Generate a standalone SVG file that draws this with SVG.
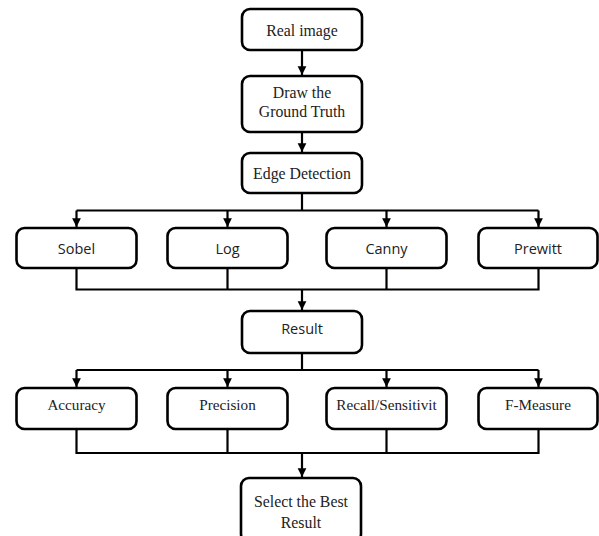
<svg xmlns="http://www.w3.org/2000/svg" width="599" height="536" viewBox="0 0 599 536">
<defs>
<marker id="arr" viewBox="0 0 10 10" refX="10" refY="5" markerWidth="4" markerHeight="4.5" orient="auto" markerUnits="strokeWidth">
<path d="M0,0 L10,5 L0,10 z" fill="#000"/>
</marker>
<style>
.box{fill:#fff;stroke:#000;stroke-width:2.6}
.con{fill:none;stroke:#000;stroke-width:2.2}
.serif{font-family:"Liberation Serif","Times New Roman",serif;font-size:15.8px;fill:#222;text-anchor:middle}
.serif2{font-family:"Liberation Serif","Times New Roman",serif;font-size:15.2px;fill:#222;text-anchor:middle}
.sans{font-family:"Open Sans","Noto Sans",sans-serif;font-size:14.5px;fill:#222;text-anchor:middle}
</style>
</defs>
<rect width="599" height="536" fill="#fff"/>
<g id="connectors">
<path class="con" d="M302,50 V75" marker-end="url(#arr)"/>
<path class="con" d="M302,132 V152" marker-end="url(#arr)"/>
<path class="con" d="M302,193 V210.5 M76.5,210.5 H538.5"/>
<path class="con" d="M76.5,210.5 V227" marker-end="url(#arr)"/>
<path class="con" d="M227.5,210.5 V227" marker-end="url(#arr)"/>
<path class="con" d="M386.5,210.5 V227" marker-end="url(#arr)"/>
<path class="con" d="M538.5,210.5 V227" marker-end="url(#arr)"/>
<path class="con" d="M76.5,268 V289.5 H538.5 V268 M227.5,268 V289.5 M386.5,268 V289.5"/>
<path class="con" d="M302,289.5 V310" marker-end="url(#arr)"/>
<path class="con" d="M302,353 V370 M76.5,370 H538.5"/>
<path class="con" d="M76.5,370 V387" marker-end="url(#arr)"/>
<path class="con" d="M227.5,370 V387" marker-end="url(#arr)"/>
<path class="con" d="M386.5,370 V387" marker-end="url(#arr)"/>
<path class="con" d="M538.5,370 V387" marker-end="url(#arr)"/>
<path class="con" d="M76.5,429 V453 H538.5 V429 M227.5,429 V453 M386.5,429 V453"/>
<path class="con" d="M302,453 V477" marker-end="url(#arr)"/>
</g>
<g id="real-image">
<rect class="box" x="242" y="9" width="120" height="41" rx="8"/>
<text class="serif" x="302" y="36">Real image</text>
</g>
<g id="ground-truth">
<rect class="box" x="242" y="76" width="120" height="56" rx="8"/>
<text class="serif" x="302" y="98">Draw the</text>
<text class="serif" x="302" y="117">Ground Truth</text>
</g>
<g id="edge-detection">
<rect class="box" x="242" y="153" width="120" height="40" rx="8"/>
<text class="serif" x="302" y="179">Edge Detection</text>
</g>
<g id="sobel">
<rect class="box" x="16.5" y="228" width="120" height="40" rx="8"/>
<text class="sans" x="76.5" y="254">Sobel</text>
</g>
<g id="log">
<rect class="box" x="167.5" y="228" width="120" height="40" rx="8"/>
<text class="sans" x="227.5" y="254">Log</text>
</g>
<g id="canny">
<rect class="box" x="326.5" y="228" width="120" height="40" rx="8"/>
<text class="sans" x="386.5" y="254">Canny</text>
</g>
<g id="prewitt">
<rect class="box" x="478.5" y="228" width="119" height="40" rx="8"/>
<text class="sans" x="538" y="254">Prewitt</text>
</g>
<g id="result">
<rect class="box" x="242" y="311" width="120" height="42" rx="8"/>
<text class="sans" x="302" y="334">Result</text>
</g>
<g id="accuracy">
<rect class="box" x="16.5" y="388" width="120" height="41" rx="8"/>
<text class="serif2" x="76.5" y="410">Accuracy</text>
</g>
<g id="precision">
<rect class="box" x="167.5" y="388" width="120" height="41" rx="8"/>
<text class="serif2" x="227.5" y="410">Precision</text>
</g>
<g id="recall">
<rect class="box" x="326.5" y="388" width="120" height="41" rx="8"/>
<text class="serif2" x="386.5" y="410">Recall/Sensitivit</text>
</g>
<g id="f-measure">
<rect class="box" x="478.5" y="388" width="119" height="41" rx="8"/>
<text class="serif2" x="538" y="410">F-Measure</text>
</g>
<g id="select-best">
<rect class="box" x="241" y="478" width="120" height="64" rx="8"/>
<text class="serif" x="301" y="507">Select the Best</text>
<text class="serif" x="301" y="528">Result</text>
</g>
</svg>
